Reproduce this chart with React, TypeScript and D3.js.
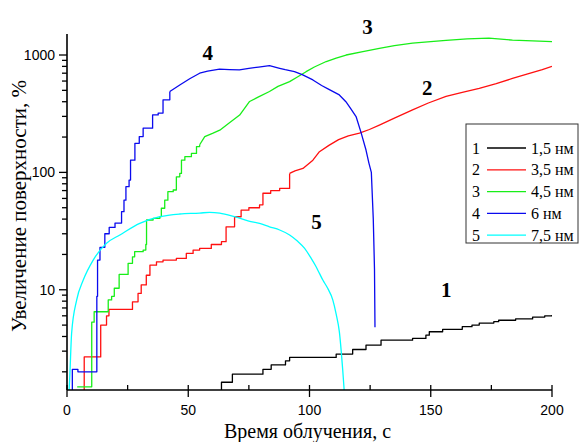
import React from "react";
import * as d3 from "d3";

const W = 581;
const H = 442;

// Axis ticks
const xMajorTicks = [0, 50, 100, 150, 200];
const xMinorTicks = [25, 75, 125, 175];
const yMajorTicks = [10, 100, 1000];
const yMinorTicks = [2, 3, 4, 5, 6, 7, 8, 9, 20, 30, 40, 50, 60, 70, 80, 90, 200, 300, 400, 500, 600, 700, 800, 900];

// Series 1: 1,5 нм (black)
const s1T = [62, 63.7, 68.2, 80.8, 84.2, 90.1, 91.8, 111, 117.8, 123.3, 129.5, 142.5, 148, 149.4, 154.9, 163, 167, 170, 176, 178, 185, 192, 197, 200];
const s1V = [1.2, 1.63, 1.91, 2.1, 2.29, 2.48, 2.65, 2.83, 3.1, 3.37, 3.72, 3.85, 4.1, 4.39, 4.6, 4.85, 5.0, 5.2, 5.35, 5.5, 5.65, 5.85, 6.0, 6.1];

// Series 2: 3,5 нм (red)
const s2T = [6, 7.1, 13.9, 16.3, 17.3, 27, 29.3, 30.6, 32.7, 34.2, 36.9, 39.6, 45.1, 49.2, 52, 54.7, 59.5, 63.7, 65.6, 69.1, 71.8, 75, 79.4, 80.8, 84, 87.7, 91.8, 94, 97.3, 101.4, 104.1, 108, 112, 116, 120.6, 124.7, 128.8, 135, 142.5, 149, 156.3, 163, 170, 177, 183.7, 190, 196, 200];
const s2V = [1.2, 2.68, 5.0, 6.0, 6.8, 7.9, 9.3, 11, 13.3, 16.2, 17.3, 17.9, 18.5, 20.4, 21.8, 22.5, 24.3, 25.7, 34.4, 41.9, 47.7, 50, 52.9, 66.4, 70, 73, 98, 103, 108, 127, 150, 170, 190, 205, 216, 232, 253, 290, 341, 390, 444, 480, 519, 570, 632, 690, 750, 800];

// Series 3: 4,5 нм (green)
const s3T = [4.2, 10.2, 11.2, 17, 18.4, 19.5, 21.5, 25.2, 27, 27.9, 31.4, 32.5, 32.8, 35.5, 38.3, 38.9, 40.3, 41.6, 43.8, 45.1, 46.5, 47.2, 48.6, 51.3, 53.4, 54.7, 56.8, 60, 63, 67, 71.2, 75.3, 79, 83.5, 87, 91.8, 95, 98.6, 102, 106.9, 111, 115.1, 122, 128.8, 135, 142.5, 150, 156.3, 165, 174, 183.7, 192, 200];
const s3V = [1.49, 5.3, 6.5, 8.2, 8.8, 10.3, 13.5, 16.8, 19.1, 21.1, 21.8, 24.3, 39.3, 40.6, 42, 49.5, 58, 68.5, 70.8, 91.7, 98, 127, 136, 145, 166, 172, 202, 215, 229, 265, 308, 402, 440, 489, 540, 593, 650, 721, 790, 880, 940, 1000, 1070, 1140, 1200, 1260, 1300, 1330, 1370, 1390, 1340, 1320, 1300];

// Series 4: 6 нм (blue)
const s4T = [1.5, 2.2, 4.5, 12.3, 12.6, 13.6, 15.6, 17.4, 19.8, 22.5, 23.5, 24.3, 25.6, 26.2, 28, 29.8, 31.4, 35.3, 37.6, 39.6, 42.4, 46.5, 50.6, 54.7, 58, 62.9, 67, 71.1, 75, 79, 83.5, 87.7, 90, 93.8, 97, 101.4, 105, 108, 112.3, 115, 117, 119.2, 121.3, 123.3, 124.5, 125.5, 126.3, 126.8, 127];
const s4V = [1.2, 2.1, 2.0, 8.8, 17.9, 23, 30, 34, 37, 46.3, 58, 75.5, 86, 127, 177, 202, 238, 309, 320, 415, 489, 556, 627, 700, 730, 757, 750, 746, 770, 790, 813, 771, 750, 721, 680, 613, 550, 510, 457, 400, 350, 299, 217, 155, 120, 100, 40, 15, 4.8];

// Series 5: 7,5 нм (cyan)
const s5T = [0.8, 1.2, 1.9, 4, 6.7, 10.8, 16.3, 21.8, 30, 38.3, 46.5, 54.7, 58.8, 63, 69.1, 75, 79.4, 83.5, 87.7, 91.8, 95, 98, 100.7, 102.5, 104.1, 105.5, 107.5, 109.6, 111, 112.3, 113.7, 114.4];
const s5V = [1.3, 1.93, 4.25, 8.2, 12.1, 17.9, 24.9, 29.3, 36.8, 41.9, 44.2, 45, 45.7, 45, 41.9, 38.5, 36.8, 34.4, 32.3, 29.3, 26, 22.5, 18.5, 16, 13.8, 12.1, 10.3, 8.2, 6.2, 4.4, 2.07, 1.3];

const seriesNumbers = ["1", "2", "3", "4", "5"];
const legendLabels = ["1,5 нм", "3,5 нм", "4,5 нм", "6 нм", "7,5 нм"];
const seriesColors = ["#000000", "#ff1010", "#18ee18", "#0a0aee", "#00ffff"];
const seriesT = [s1T, s2T, s3T, s4T, s5T];
const seriesV = [s1V, s2V, s3V, s4V, s5V];
// time up to which each curve is drawn as a staircase (null = smooth)
const stepUntil = [200, 91.8, 54.7, 42.4, null];

// Curve number annotations (data coordinates)
const annT = [156.4, 148.6, 123.9, 58.0, 102.9];
const annV = [10, 525, 1740, 1045, 37.8];

const serif = "'Liberation Serif', 'Times New Roman', serif";
const sans = "'Liberation Sans', Arial, sans-serif";

export default function App() {
  const x = d3.scaleLinear().domain([0, 200]).range([67, 552]);
  const y = d3.scaleLog().domain([1.4, 1510]).range([390, 34]);
  const [x0, x1] = x.range();
  const [yb, yt] = y.range();

  const lineStep = d3
    .line<[number, number]>()
    .x((d) => x(d[0]))
    .y((d) => y(d[1]))
    .curve(d3.curveStepAfter);
  const lineLin = d3
    .line<[number, number]>()
    .x((d) => x(d[0]))
    .y((d) => y(d[1]))
    .curve(d3.curveLinear);
  const lineSmooth = d3
    .line<[number, number]>()
    .x((d) => x(d[0]))
    .y((d) => y(d[1]))
    .curve(d3.curveMonotoneX);

  const paths: { d: string; color: string }[] = [];
  seriesT.forEach((ts, i) => {
    const pts: [number, number][] = ts.map((t, j) => [t, seriesV[i][j]]);
    const su = stepUntil[i];
    if (su === null) {
      paths.push({ d: lineSmooth(pts) || "", color: seriesColors[i] });
    } else {
      const a = pts.filter((p) => p[0] <= su);
      const b = pts.filter((p) => p[0] >= su);
      paths.push({ d: lineStep(a) || "", color: seriesColors[i] });
      if (b.length > 1) paths.push({ d: lineLin(b) || "", color: seriesColors[i] });
    }
  });

  const legX = 466;
  const legY = 124;
  const legW = 112;
  const legH = 119;
  const rowH = 21.8;

  return (
    <svg
      width={W}
      height={H}
      style={{ position: "absolute", left: 0, top: 0, background: "#fff" }}
    >
      <defs>
        <clipPath id="plotClip">
          <rect x={x0} y={yt} width={x1 - x0} height={yb - yt} />
        </clipPath>
      </defs>
      <rect x={0} y={0} width={W} height={H} fill="#fff" />

      <g clipPath="url(#plotClip)" fill="none" strokeWidth={1.3}>
        {paths.map((p, i) => (
          <path key={i} d={p.d} stroke={p.color} strokeLinejoin="round" />
        ))}
      </g>

      {/* Axes */}
      <g stroke="#000" strokeWidth={1.6} fill="none">
        <line x1={x0} x2={x1} y1={yb} y2={yb} />
        <line x1={x0} x2={x0} y1={yb} y2={yt} />
      </g>
      <g stroke="#000" strokeWidth={1.3}>
        {xMajorTicks.map((t) => (
          <line key={"xM" + t} x1={x(t)} x2={x(t)} y1={yb - 5} y2={yb + 7} />
        ))}
        {xMinorTicks.map((t) => (
          <line key={"xm" + t} x1={x(t)} x2={x(t)} y1={yb - 5} y2={yb} />
        ))}
        {yMajorTicks.map((t) => (
          <line key={"yM" + t} x1={x0 - 8} x2={x0} y1={y(t)} y2={y(t)} />
        ))}
        {yMinorTicks.map((t) => (
          <line key={"ym" + t} x1={x0 - 5} x2={x0} y1={y(t)} y2={y(t)} />
        ))}
      </g>
      <g fontFamily={sans} fontSize={14} fill="#000">
        {xMajorTicks.map((t) => (
          <text key={"xl" + t} x={x(t)} y={415} textAnchor="middle">
            {t}
          </text>
        ))}
        {yMajorTicks.map((t) => (
          <text key={"yl" + t} x={x0 - 12} y={y(t) + 5} textAnchor="end">
            {t}
          </text>
        ))}
      </g>

      {/* Axis titles */}
      <text
        x={(x0 + x1) / 2 - 2}
        y={438}
        textAnchor="middle"
        fontFamily={serif}
        fontSize={20}
        fill="#000"
      >
        Время облучения, с
      </text>
      <text
        transform={`translate(25.5, 206) rotate(-90)`}
        textAnchor="middle"
        fontFamily={serif}
        fontSize={21}
        fill="#000"
      >
        Увеличение поверхности, %
      </text>

      {/* Curve annotations */}
      <g fontFamily={serif} fontSize={21} fontWeight="bold" fill="#000">
        {seriesNumbers.map((n, i) => (
          <text key={"an" + n} x={x(annT[i])} y={y(annV[i]) + 7} textAnchor="middle">
            {n}
          </text>
        ))}
      </g>

      {/* Legend */}
      <rect x={legX} y={legY} width={legW} height={legH} fill="#fff" stroke="#333" strokeWidth={1} />
      <g fontFamily={serif} fontSize={16} fill="#000">
        {seriesNumbers.map((n, i) => {
          const cy = legY + 24 + i * rowH;
          return (
            <g key={"lg" + n}>
              <text x={legX + 6} y={cy + 5.5}>
                {n}
              </text>
              <line x1={legX + 21} x2={legX + 60} y1={cy} y2={cy} stroke={seriesColors[i]} strokeWidth={1.3} />
              <text x={legX + 65} y={cy + 5.5}>
                {legendLabels[i]}
              </text>
            </g>
          );
        })}
      </g>
    </svg>
  );
}
